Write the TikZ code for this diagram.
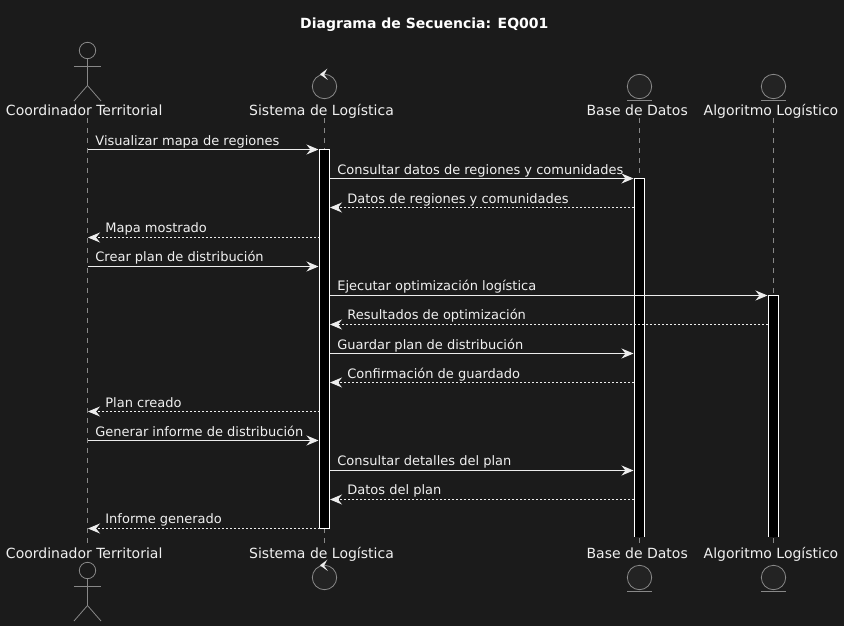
\documentclass[tikz,border=0pt]{standalone}
\usepackage{fontspec}
\setmainfont{DejaVu Sans}
\usetikzlibrary{arrows.meta}
\definecolor{bgc}{HTML}{1B1B1B}
\definecolor{txtc}{HTML}{F0F0F0}
\definecolor{linec}{HTML}{888888}
\definecolor{headc}{HTML}{232323}
\definecolor{msgc}{HTML}{EDEDED}
\tikzset{
  x=1pt,y=-1pt,
  head/.style={inner sep=0pt,font=\fontsize{14}{16}\selectfont,text=txtc,anchor=base},
  msglabel/.style={inner sep=0pt,font=\fontsize{13}{15}\selectfont,text=txtc,anchor=base west},
  titlelabel/.style={inner sep=0pt,font=\fontsize{14}{16}\selectfont\bfseries,text=white,anchor=base},
  shapeline/.style={draw=linec,line width=0.8pt},
  shapefill/.style={shapeline,fill=headc},
  life/.style={draw=linec,line width=0.7pt,dash pattern=on 5pt off 5pt},
  tip/.style={-{Stealth[inset=4pt,length=12pt,width=10pt,fill=msgc]}},
  syncmsg/.style={draw=msgc,line width=0.9pt,tip},
  retmsg/.style={draw=msgc,line width=0.9pt,dash pattern=on 2pt off 2pt,tip},
  barbox/.style={fill=black,draw=white,line width=0.9pt},
}
\newcommand{\actorfig}[2]{%
  \draw[shapeline] (#1,#2) circle (8.2);
  \draw[shapeline] (#1,#2+8.2) -- (#1,#2+35);
  \draw[shapeline] (#1-13.5,#2+16) -- (#1+13.5,#2+16);
  \draw[shapeline] (#1-13.5,#2+50.5) -- (#1,#2+35) -- (#1+13.5,#2+50.5);
}
\newcommand{\controlfig}[2]{%
  \draw[shapefill] (#1,#2) circle (12.2);
  \fill[msgc] (#1+2.8,#2-17.8) -- (#1-4.6,#2-12.2) -- (#1+3.4,#2-6.5) -- (#1-0.4,#2-11.8) -- cycle;
}
\newcommand{\entityfig}[2]{%
  \draw[shapefill] (#1,#2) circle (12.2);
  \draw[shapeline] (#1-12.4,#2+13.7) -- (#1+12.4,#2+13.7);
}
% #1 id, #2 from x, #3 to x, #4 y, #5 style, #6 label position, #7 label
\newcommand{\msg}[7]{%
  \coordinate (s#1) at (#2,#4);
  \coordinate (e#1) at (#3,#4);
  \draw[#5] (s#1) -- (e#1);
  \node[msglabel] (l#1) at (#6) {#7};
}
\begin{document}
\begin{tikzpicture}
\useasboundingbox (0,0) rectangle (844,626);
\fill[bgc] (0,0) rectangle (844,626);
\node[titlelabel] (title) at (424.3,28.6) {Diagrama de Secuencia: EQ001};

% lifelines
\coordinate (aT) at (87.5,118); \coordinate (aB) at (87.5,543);
\coordinate (sT) at (324.5,118); \coordinate (sB) at (324.5,543);
\coordinate (dT) at (639.5,118); \coordinate (dB) at (639.5,543);
\coordinate (gT) at (773.5,118); \coordinate (gB) at (773.5,543);
\draw[life] (aT) -- (aB);
\draw[life] (sT) -- (sB);
\draw[life] (dT) -- (dB);
\draw[life] (gT) -- (gB);

% activation bars
\filldraw[barbox] (319.5,149.5) rectangle (329.5,528.5);
\fill[black] (634.5,178.5) rectangle (644.5,536.5);
\draw[draw=white,line width=0.9pt] (634.5,536.5) -- (634.5,178.5) -- (644.5,178.5) -- (644.5,536.5);
\fill[black] (768.5,295.5) rectangle (778.5,536.5);
\draw[draw=white,line width=0.9pt] (768.5,536.5) -- (768.5,295.5) -- (778.5,295.5) -- (778.5,536.5);

% top heads
\actorfig{87.5}{50.5}
\controlfig{324.5}{86.5}
\entityfig{639.5}{86.5}
\entityfig{773.5}{86.5}
\node[head] (h1) at (84.2,115) {Coordinador Territorial};
\node[head] (h2) at (321.5,115) {Sistema de Logística};
\node[head] (h3) at (637.2,115) {Base de Datos};
\node[head] (h4) at (771,115) {Algoritmo Logístico};

% bottom heads
\node[head] (f1) at (84.2,558) {Coordinador Territorial};
\node[head] (f2) at (321.5,558) {Sistema de Logística};
\node[head] (f3) at (637.2,558) {Base de Datos};
\node[head] (f4) at (771,558) {Algoritmo Logístico};
\actorfig{87.5}{570.5}
\controlfig{324.5}{577.5}
\entityfig{639.5}{577.5}
\entityfig{773.5}{577.5}

% messages
\msg{1}{87.5}{318.5}{149.5}{syncmsg}{95.2,145}{Visualizar mapa de regiones}
\msg{2}{329.5}{633.5}{178.5}{syncmsg}{337.2,174}{Consultar datos de regiones y comunidades}
\msg{3}{634}{330}{207.5}{retmsg}{347.2,203}{Datos de regiones y comunidades}
\msg{4}{319.5}{88}{237.5}{retmsg}{105.2,232}{Mapa mostrado}
\msg{5}{87.5}{318.5}{266.5}{syncmsg}{95.2,261}{Crear plan de distribución}
\msg{6}{329.5}{767.5}{295.5}{syncmsg}{337.2,290}{Ejecutar optimización logística}
\msg{7}{768}{330}{324.5}{retmsg}{347.2,319}{Resultados de optimización}
\msg{8}{329.5}{633.5}{353.5}{syncmsg}{337.2,349}{Guardar plan de distribución}
\msg{9}{634}{330}{382.5}{retmsg}{347.2,378}{Confirmación de guardado}
\msg{10}{319.5}{88}{411.5}{retmsg}{105.2,407}{Plan creado}
\msg{11}{87.5}{318.5}{440.5}{syncmsg}{95.2,436}{Generar informe de distribución}
\msg{12}{329.5}{633.5}{470.5}{syncmsg}{337.2,465}{Consultar detalles del plan}
\msg{13}{634}{330}{499.5}{retmsg}{347.2,494}{Datos del plan}
\msg{14}{319.5}{88}{528.5}{retmsg}{105.2,523}{Informe generado}
\end{tikzpicture}
\end{document}
